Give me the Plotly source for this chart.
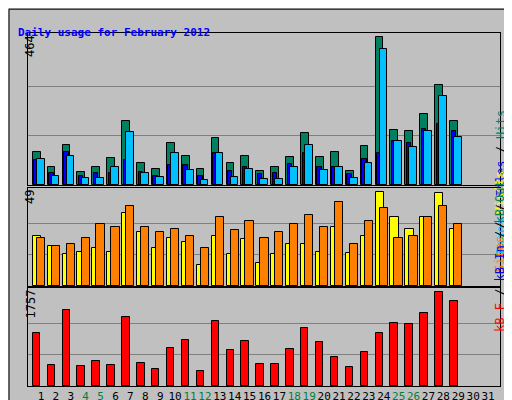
import plotly.graph_objects as go

days = list(range(1, 32))
data_days = list(range(1, 30))
hits = [105,58,124,42,55,86,200,70,51,133,92,51,146,70,92,45,58,89,162,89,105,45,121,464,174,168,222,313,200]
files = [80,39,105,29,39,39,77,42,29,64,64,29,102,45,55,33,39,67,102,55,55,33,83,102,137,133,177,190,168]
pages = [83,29,92,23,23,55,165,39,26,102,48,17,102,26,51,20,20,58,124,48,58,23,70,426,137,118,168,278,152]
visits = [26,21,16.5,18,20,18,38,28,20,25,23,11,26,16.5,24.5,12,16.5,22,22,18,31,17,26,49,36,30,36,48.5,30]
sites = [25,21,22,25,32.5,31,42,31,28,30,26,20,36,29,34,25,28,32.5,37,31,44,22,34,41,25,26,36,42,32.5]
kbytes = [985,386,1429,367,463,386,1294,425,328,714,869,290,1216,676,850,405,405,695,1081,830,541,348,637,985,1178,1158,1371,1757,1603]
weekend = {4,5,11,12,18,19,25,26}
tick_text = [f'<span style="color:{"#008040" if d in weekend else "black"}">{d}</span>' for d in days]

H = 400
def py(p): return 1 - p / H

fig = go.Figure()
line = dict(color="black", width=1)
fig.add_bar(x=data_days, y=hits, width=0.52, offset=-0.55, marker=dict(color="#008060", line=line), xaxis="x", yaxis="y")
fig.add_bar(x=data_days, y=files, width=0.3, offset=-0.45, marker=dict(color="#0000FF", line=line), xaxis="x", yaxis="y")
fig.add_bar(x=data_days, y=pages, width=0.52, offset=-0.28, marker=dict(color="#00C0FF", line=line), xaxis="x", yaxis="y")
fig.add_bar(x=data_days, y=visits, width=0.55, offset=-0.55, marker=dict(color="#FFFF00", line=line), xaxis="x2", yaxis="y2")
fig.add_bar(x=data_days, y=sites, width=0.55, offset=-0.28, marker=dict(color="#FF8000", line=line), xaxis="x2", yaxis="y2")
fig.add_bar(x=data_days, y=kbytes, width=0.5, offset=-0.55, marker=dict(color="#FF0000", line=line), xaxis="x3", yaxis="y3")

xr = [0.13, 31.8]
xdom = [20/512, 492/512]
common_x = dict(range=xr, domain=xdom, showgrid=False, zeroline=False, showline=True, linecolor="black", mirror=True, fixedrange=True, automargin=False)
common_y = dict(showticklabels=False, gridcolor="#808080", showline=True, linecolor="black", mirror=True, zeroline=False, automargin=False)
fig.update_layout(
    width=512, height=400, margin=dict(l=0, r=0, t=0, b=0, autoexpand=False),
    paper_bgcolor="#C0C0C0", plot_bgcolor="#C0C0C0",
    barmode="overlay", showlegend=False, bargap=0,
    font=dict(family="DejaVu Sans Mono", size=11, color="black"),
    xaxis=dict(common_x, anchor="y", showticklabels=False, ticks=""),
    xaxis2=dict(common_x, anchor="y2", showticklabels=False, ticks=""),
    xaxis3=dict(common_x, anchor="y3", tickvals=days, ticktext=tick_text, ticks="", tickangle=0, tickfont=dict(size=11)),
    yaxis=dict(common_y, domain=[py(177), py(25)], range=[0, 477], tickvals=[154.7, 309.3]),
    yaxis2=dict(common_y, domain=[py(278), py(180)], range=[0, 51.2], tickvals=[49/3, 98/3]),
    yaxis3=dict(common_y, domain=[py(378), py(280)], range=[0, 1838], tickvals=[1757/3, 3514/3]),
)
anns = [
    dict(x=8/512, y=py(16), text="<b>Daily usage for February 2012</b>", font=dict(color="#0000FF", size=11), xanchor="left"),
    dict(x=13/512, y=py(25), text="464", textangle=-90, yanchor="top"),
    dict(x=13/512, y=py(180), text="49", textangle=-90, yanchor="top"),
    dict(x=13/512, y=py(280), text="1757", textangle=-90, yanchor="top"),
    dict(x=501/512, y=py(100), textangle=-90, text='<span style="color:#00C0FF">Pages</span> / <span style="color:#0000FF">Files</span> / <span style="color:#008060">Hits</span>'),
    dict(x=501/512, y=py(214), textangle=-90, text='<span style="color:#FF8000">Sites</span> / <span style="color:#FFFF00">Visits</span>'),
    dict(x=501/512, y=py(326), textangle=-90, text='<span style="color:#FF0000">kB F</span> / <span style="color:#0000FF">kB In</span> / <span style="color:#008060">kB Out</span>'),
]
for a in anns:
    a.update(xref="paper", yref="paper", showarrow=False)
    a.setdefault("font", dict(size=12))
fig.update_layout(annotations=anns)
shapes = [
    dict(type="rect", xref="paper", yref="paper", x0=0.002, y0=0.003, x1=0.998, y1=0.997, line=dict(color="black", width=1)),
    dict(type="line", xref="paper", yref="paper", x0=0.006, y0=0.012, x1=0.994, y1=0.012, line=dict(color="#808080", width=3)),
]
fig.update_layout(shapes=shapes)
fig.write_html("out.html")
